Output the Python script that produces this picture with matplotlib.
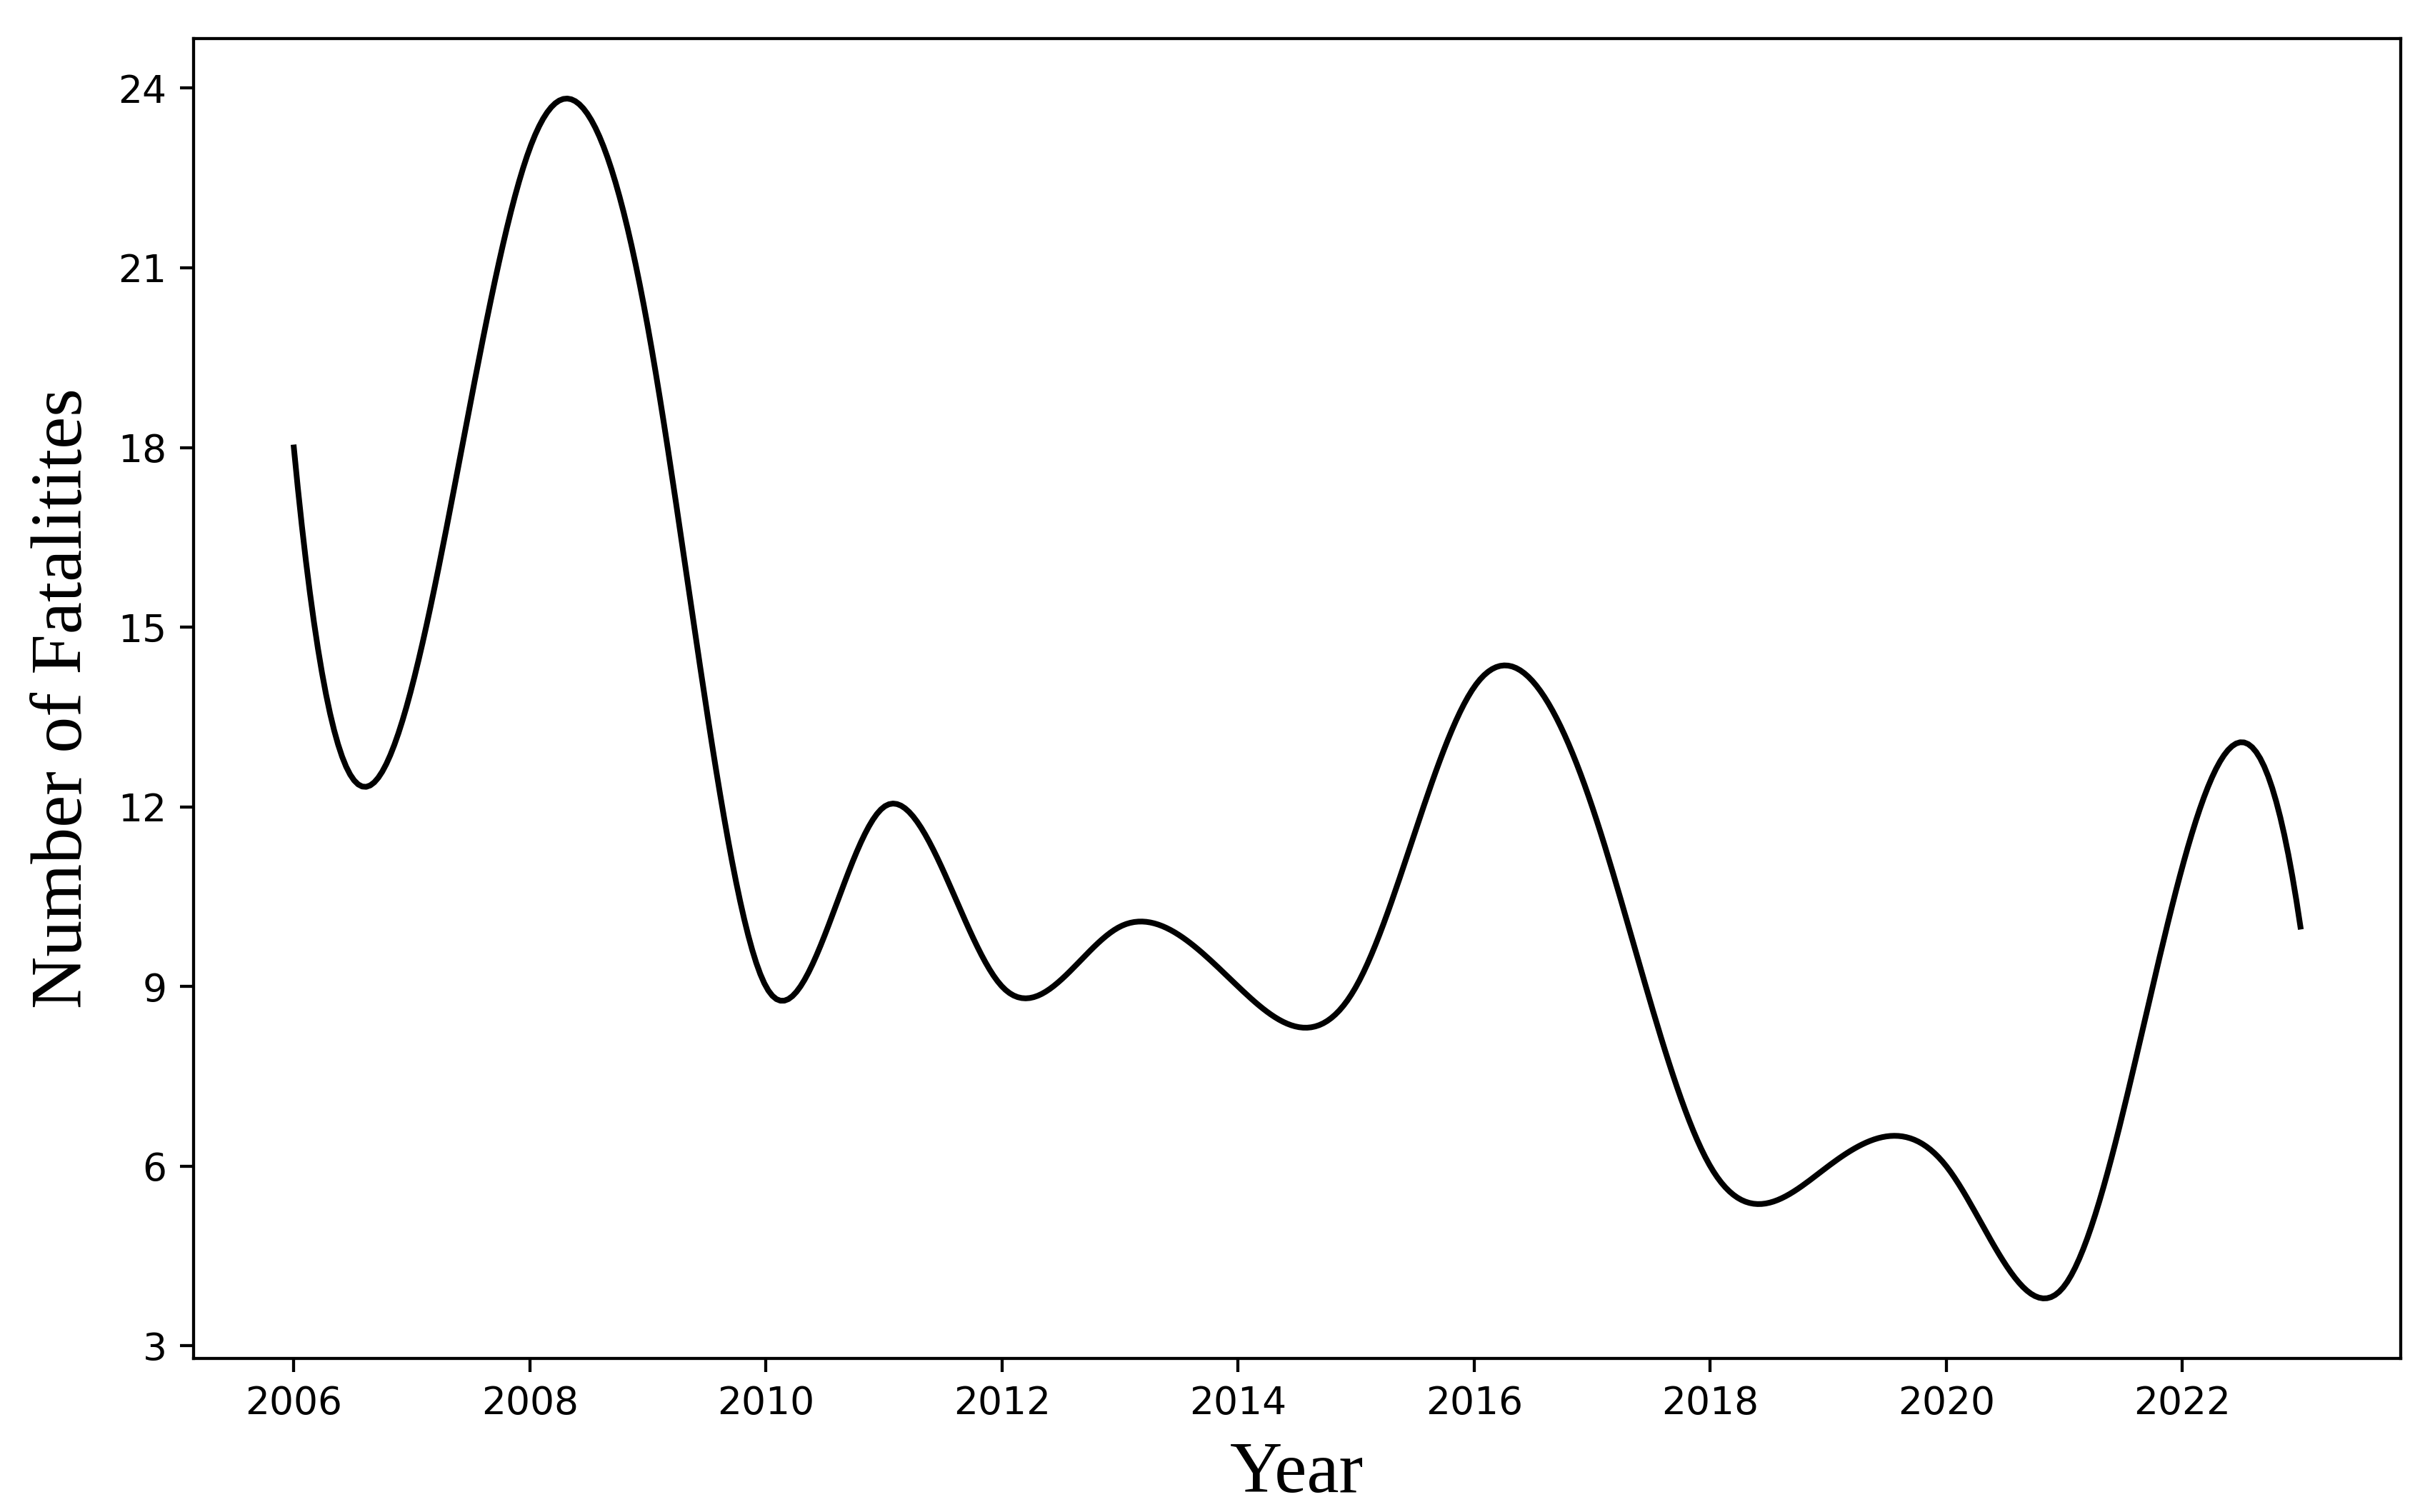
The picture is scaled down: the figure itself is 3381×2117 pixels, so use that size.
import numpy as np
import matplotlib
matplotlib.use("Agg")
import matplotlib.pyplot as plt

# yearly fatalities
years = np.arange(2006, 2024)
fatalities = [18, 14, 23, 20, 9, 12, 9, 10, 9, 9, 14, 12, 6, 6, 6, 4, 11, 10]
yticks = [3, 6, 9, 12, 15, 18, 21, 24]
xticks = [2006, 2008, 2010, 2012, 2014, 2016, 2018, 2020, 2022]


def spline(x, y, xs):
    # cubic spline, not-a-knot ends
    x = np.asarray(x, float)
    y = np.asarray(y, float)
    n = len(x)
    h = np.diff(x)
    A = np.zeros((n, n))
    b = np.zeros(n)
    for i in range(1, n - 1):
        A[i, i - 1] = h[i - 1]
        A[i, i] = 2 * (h[i - 1] + h[i])
        A[i, i + 1] = h[i]
        b[i] = 6 * ((y[i + 1] - y[i]) / h[i] - (y[i] - y[i - 1]) / h[i - 1])
    A[0, 0], A[0, 1], A[0, 2] = h[1], -(h[0] + h[1]), h[0]
    A[-1, -3], A[-1, -2], A[-1, -1] = h[-1], -(h[-2] + h[-1]), h[-2]
    M = np.linalg.solve(A, b)
    idx = np.clip(np.searchsorted(x, xs) - 1, 0, n - 2)
    x0, x1 = x[idx], x[idx + 1]
    hh = x1 - x0
    out = (M[idx] * (x1 - xs) ** 3 / (6 * hh) + M[idx + 1] * (xs - x0) ** 3 / (6 * hh)
           + (y[idx] / hh - M[idx] * hh / 6) * (x1 - xs)
           + (y[idx + 1] / hh - M[idx + 1] * hh / 6) * (xs - x0))
    return out


xs = np.linspace(years.min(), years.max(), 500)
ys = spline(years, fatalities, xs)

fig = plt.figure(figsize=(3382 / 385, 2117 / 385), dpi=385)
ax = fig.add_axes([0.0801, 0.1016, 0.9137, 0.8729])
ax.plot(xs, ys, color="black", linewidth=1.5)
ax.set_xticks(xticks)
ax.set_yticks(yticks)
ax.set_xlabel("Year", family="Liberation Serif", fontsize=19, labelpad=5)
ax.set_ylabel("Number of Fatalitites", family="Liberation Serif", fontsize=19, labelpad=5.5)

fig.savefig("out.png", dpi=385)
